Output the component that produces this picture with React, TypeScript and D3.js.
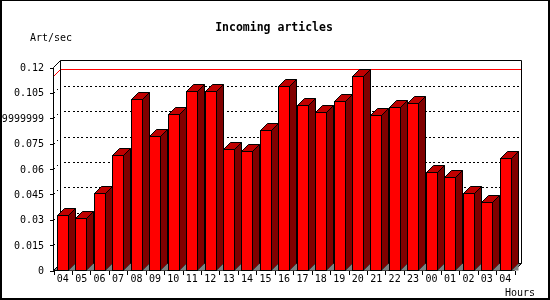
import { useEffect, useRef } from 'react'
import * as d3 from 'd3'

const hours = ['04', '05', '06', '07', '08', '09', '10', '11', '12', '13', '14', '15', '16',
  '17', '18', '19', '20', '21', '22', '23', '00', '01', '02', '03', '04']
const artPerSec = [0.0329, 0.0311, 0.0459, 0.0684, 0.1011, 0.0796, 0.0926, 0.1064, 0.1064,
  0.0719, 0.0709, 0.0832, 0.109, 0.098, 0.0938, 0.1003, 0.1147, 0.092, 0.0968, 0.0991,
  0.0581, 0.0552, 0.0459, 0.0406, 0.0666]
const yTickValues = [0, 0.015, 0.03, 0.045, 0.06, 0.075, 0.09, 0.105, 0.12]
const yTickLabels = ['0', '0.015', '0.03', '0.045', '0.06', '0.075', '0.08999999999999999', '0.105', '0.12']

const W = 550
const H = 300
const FONT = '"DejaVu Sans Mono", "Liberation Mono", monospace'

export default function App() {
  const svgRef = useRef<SVGSVGElement>(null)

  useEffect(() => {
    const svg = d3.select(svgRef.current)
    svg.selectAll('*').remove()

    // front plane of the 3d box, back plane sits depth px up and right
    const left = 53.5, right = 514.5, bottom = 270.5, top = 67.5
    const depth = 7

    const x = d3.scaleBand<number>().domain(d3.range(hours.length)).range([left, right]).padding(0)
    const y = d3.scaleLinear().domain([0, 0.12]).range([bottom, top])
    const step = x.step()
    const barOff = step * 0.19
    const barW = step * 0.6

    svg.append('rect')
      .attr('x', 0.5).attr('y', 0.5).attr('width', W - 2).attr('height', H - 2)
      .attr('fill', '#fff').attr('stroke', '#000').attr('stroke-width', 1)
    svg.append('line').attr('x1', W - 1).attr('x2', W - 1).attr('y1', 0).attr('y2', H)
      .attr('stroke', '#000').attr('stroke-width', 2)
    svg.append('line').attr('x1', 0).attr('x2', W).attr('y1', H - 1).attr('y2', H - 1)
      .attr('stroke', '#000').attr('stroke-width', 2)
    svg.append('line').attr('x1', 1).attr('x2', 1).attr('y1', 0).attr('y2', H)
      .attr('stroke', '#000').attr('stroke-width', 2)

    svg.append('text')
      .attr('x', 274).attr('y', 31)
      .attr('text-anchor', 'middle')
      .attr('font-family', FONT).attr('font-size', 11.5).attr('font-weight', 'bold')
      .text('Incoming articles')

    svg.append('text')
      .attr('x', 30).attr('y', 41)
      .attr('font-family', FONT).attr('font-size', 10)
      .text('Art/sec')

    // back wall
    svg.append('rect')
      .attr('x', left + depth).attr('y', top - depth)
      .attr('width', right - left).attr('height', bottom - top)
      .attr('fill', '#fff')

    // floor
    svg.append('path')
      .attr('d', `M${left},${bottom}L${right},${bottom}L${right + depth},${bottom - depth}L${left + depth},${bottom - depth}Z`)
      .attr('fill', '#808080')

    // dotted grid lines on side wall and back wall
    const grid = yTickValues.filter(v => v > 0 && v < 0.12)
    svg.append('g')
      .selectAll('path')
      .data(grid)
      .join('path')
      .attr('d', v => `M${left},${Math.round(y(v)) + 0.5}L${left + depth},${Math.round(y(v)) + 0.5 - depth}L${right + depth},${Math.round(y(v)) + 0.5 - depth}`)
      .attr('fill', 'none')
      .attr('stroke', '#000')
      .attr('stroke-width', 1)
      .attr('stroke-dasharray', '2,2.4')
      .attr('shape-rendering', 'crispEdges')

    // max line
    const maxV = d3.max(artPerSec) ?? 0
    const my = Math.round(y(maxV)) + 0.5
    svg.append('line')
      .attr('x1', left).attr('y1', my).attr('x2', left + depth).attr('y2', my - depth)
      .attr('stroke', '#ff0000')
    svg.append('line')
      .attr('x1', left + depth).attr('y1', my - depth).attr('x2', right + depth).attr('y2', my - depth)
      .attr('stroke', '#ff0000')

    // box outline
    const box = d3.path()
    box.moveTo(left, bottom); box.lineTo(left, top); box.lineTo(left + depth, top - depth)
    box.lineTo(right + depth, top - depth); box.lineTo(right + depth, bottom - depth)
    box.lineTo(right, bottom); box.lineTo(left, bottom)
    box.moveTo(left + depth, top - depth); box.lineTo(left + depth, bottom - depth)
    box.lineTo(right + depth, bottom - depth)
    box.moveTo(left + depth, bottom - depth); box.lineTo(left, bottom)
    svg.append('path')
      .attr('d', box.toString())
      .attr('fill', 'none')
      .attr('stroke', '#000')
      .attr('stroke-width', 1)

    // bars
    const bars = svg.append('g')
      .selectAll('g')
      .data(artPerSec)
      .join('g')
    const bx = (i: number) => Math.round((x(i) ?? 0) + barOff) + 0.5
    const bw = Math.round(barW)
    const by = (v: number) => Math.round(y(v)) + 0.5
    bars.append('path')
      .attr('d', (v, i) => {
        const x0 = bx(i) + bw, y0 = by(v)
        return `M${x0},${y0}L${x0 + depth},${y0 - depth}L${x0 + depth},${bottom - depth}L${x0},${bottom}Z`
      })
      .attr('fill', '#800000').attr('stroke', '#000').attr('stroke-width', 1)
    bars.append('path')
      .attr('d', (v, i) => {
        const x0 = bx(i) + bw, yb = bottom
        return `M${x0},${yb}L${x0 + depth},${yb - depth}L${x0 + depth},${yb}Z`
      })
      .attr('fill', '#808080')
    bars.append('path')
      .attr('d', (v, i) => {
        const x0 = bx(i), y0 = by(v)
        return `M${x0},${y0}L${x0 + bw},${y0}L${x0 + bw + depth},${y0 - depth}L${x0 + depth},${y0 - depth}Z`
      })
      .attr('fill', '#c00000').attr('stroke', '#000').attr('stroke-width', 1)
    bars.append('rect')
      .attr('x', (v, i) => bx(i))
      .attr('y', v => by(v))
      .attr('width', bw)
      .attr('height', v => bottom - by(v))
      .attr('fill', '#ff0000').attr('stroke', '#000').attr('stroke-width', 1)
      .attr('shape-rendering', 'crispEdges')

    // y axis ticks + labels
    const yAxis = svg.append('g')
    yAxis.selectAll('line')
      .data(yTickValues)
      .join('line')
      .attr('x1', left - 4).attr('x2', left)
      .attr('y1', v => Math.round(y(v)) + 0.5).attr('y2', v => Math.round(y(v)) + 0.5)
      .attr('stroke', '#000')
      .attr('shape-rendering', 'crispEdges')
    yAxis.selectAll('text')
      .data(yTickValues)
      .join('text')
      .attr('x', 44).attr('y', v => y(v) + 3.5)
      .attr('text-anchor', 'end')
      .attr('font-family', FONT).attr('font-size', 10)
      .text((v, i) => yTickLabels[i])

    // x axis ticks + labels
    const xAxis = svg.append('g')
    xAxis.selectAll('line')
      .data(d3.range(hours.length + 1))
      .join('line')
      .attr('x1', i => Math.round(left + i * step) + 0.5).attr('x2', i => Math.round(left + i * step) + 0.5)
      .attr('y1', bottom).attr('y2', bottom + 4)
      .attr('stroke', '#000')
      .attr('shape-rendering', 'crispEdges')
    xAxis.selectAll('text')
      .data(hours)
      .join('text')
      .attr('x', (h, i) => (x(i) ?? 0) + step / 2)
      .attr('y', 282)
      .attr('text-anchor', 'middle')
      .attr('font-family', FONT).attr('font-size', 10)
      .text(h => h)

    svg.append('text')
      .attr('x', 505).attr('y', 296)
      .attr('font-family', FONT).attr('font-size', 10)
      .text('Hours')
  }, [])

  return (
    <div style={{ position: 'fixed', left: 0, top: 0 }}>
      <svg ref={svgRef} width={W} height={H} style={{ display: 'block' }} />
    </div>
  )
}
